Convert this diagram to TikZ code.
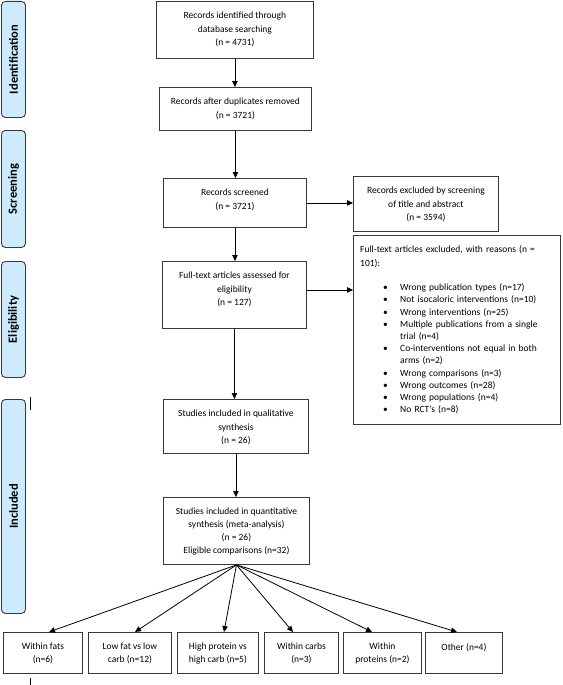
\documentclass[tikz,border=0pt]{standalone}
\usepackage{fontspec}
\setmainfont{Carlito}
\usetikzlibrary{arrows.meta}
\definecolor{lblfill}{RGB}{206,234,253}
\definecolor{edgec}{RGB}{55,55,55}
\newcommand{\bitem}[1]{\par\hangindent=40pt\hangafter=1\noindent\hspace*{23pt}\makebox[17pt][l]{\textbullet}#1}
\begin{document}
\begin{tikzpicture}[x=1pt,y=-1pt,
  box/.style={draw=edgec, line width=0.9pt, anchor=north west, inner sep=0pt},
  txt/.style={anchor=north, inner sep=0pt, align=center, yshift=-11pt, font=\fontsize{9.5}{13.5}\selectfont},
  lbl/.style={draw=edgec, fill=lblfill, rounded corners=4pt, line width=0.9pt, anchor=north west, inner sep=0pt, minimum width=24pt},
  lbltxt/.style={rotate=90, inner sep=0pt, font=\fontsize{12.5}{14}\selectfont\bfseries},
  arr/.style={-{Triangle[length=6pt,width=5.5pt]}, line width=0.8pt},
]
\useasboundingbox (0,0) rectangle (562,685);

% phase labels
\node[lbl, minimum height=116pt] (lid) at (1,1) {};
\node[lbltxt] (lidt) at (lid.center) {Identification};
\node[lbl, minimum height=117pt] (lsc) at (1,130) {};
\node[lbltxt] (lsct) at (lsc.center) {Screening};
\node[lbl, minimum height=116pt] (lel) at (1,261) {};
\node[lbltxt] (lelt) at (lel.center) {Eligibility};
\node[lbl, minimum height=214pt] (lin) at (1,399) {};
\node[lbltxt] (lint) at (lin.center) {Included};

% main boxes
\node[box, minimum width=157pt, minimum height=57pt] (b1) at (156,1) {};
\node[txt] (t1) at (b1.north) {Records identified through\\database searching\\(n = 4731)};
\node[box, minimum width=152pt, minimum height=43pt] (b2) at (159,87) {};
\node[txt] (t2) at (b2.north) {Records after duplicates removed\\(n = 3721)};
\node[box, minimum width=143pt, minimum height=49pt] (b3) at (163,178) {};
\node[txt] (t3) at (b3.north) {Records screened\\(n = 3721)};
\node[box, minimum width=145pt, minimum height=55pt] (ex) at (353,176) {};
\node[txt] (tex) at (ex.north) {Records excluded by screening\\of title and abstract\\(n = 3594)};
\node[box, minimum width=144pt, minimum height=67pt] (b4) at (162,261) {};
\node[txt] (t4) at (b4.north) {Full-text articles assessed for\\eligibility\\(n = 127)};
\node[box, minimum width=207pt, minimum height=189pt] (big) at (353,235) {};
\node[anchor=north west, inner sep=0pt, text width=198pt, align=left, font=\fontsize{9.5}{14}\selectfont] (tbig) at (360,245)
  {Full-text articles excluded, with reasons (n =\\101):\par
   \fontsize{9.5}{12.2}\selectfont\vspace{12.4pt}
   \bitem{Wrong publication types (n=17)}
   \bitem{Not isocaloric interventions (n=10)}
   \bitem{Wrong interventions (n=25)}
   \bitem{Multiple publications from a single\newline trial (n=4)}
   \bitem{Co-interventions not equal in both\newline arms (n=2)}
   \bitem{Wrong comparisons (n=3)}
   \bitem{Wrong outcomes (n=28)}
   \bitem{Wrong populations (n=4)}
   \bitem{No RCT’s (n=8)}\par};
\node[box, minimum width=145pt, minimum height=54pt] (b5) at (163,399) {};
\node[txt] (t5) at (b5.north) {Studies included in qualitative\\synthesis\\(n = 26)};
\node[box, minimum width=146pt, minimum height=67pt] (b6) at (163,497) {};
\node[txt, font=\fontsize{9.5}{13}\selectfont] (t6) at (b6.north) {Studies included in quantitative\\synthesis (meta-analysis)\\(n = 26)\\Eligible comparisons (n=32)};

% bottom boxes
\node[box, minimum width=79pt, minimum height=41pt] (ba) at (3,632) {};
\node[txt, font=\fontsize{9.5}{13}\selectfont] (ta) at (ba.north) {Within fats\\(n=6)};
\node[box, minimum width=83pt, minimum height=41pt] (bb) at (88,632) {};
\node[txt, font=\fontsize{9.5}{13}\selectfont] (tb) at (bb.north) {Low fat vs low\\carb (n=12)};
\node[box, minimum width=81pt, minimum height=41pt] (bc) at (177,632) {};
\node[txt, font=\fontsize{9.5}{13}\selectfont] (tc) at (bc.north) {High protein vs\\high carb (n=5)};
\node[box, minimum width=74pt, minimum height=41pt] (bd) at (264,632) {};
\node[txt, font=\fontsize{9.5}{13}\selectfont] (td) at (bd.north) {Within carbs\\(n=3)};
\node[box, minimum width=78pt, minimum height=41pt] (be) at (343,632) {};
\node[txt, font=\fontsize{9.5}{13}\selectfont] (te) at (be.north) {Within\\proteins (n=2)};
\node[box, minimum width=77pt, minimum height=41pt] (bf) at (425,632) {};
\node[txt, font=\fontsize{9.5}{13}\selectfont] (tf) at (bf.north) {Other (n=4)};

% connectors
\coordinate (b4r) at ([yshift=5pt]b4.east);
\draw[arr] (b1.south) -- (b1.south |- b2.north);
\draw[arr] (b2.south) -- (b2.south |- b3.north);
\draw[arr] (b3.east) -- (ex.west |- b3.east);
\draw[arr] (b3.south) -- (b3.south |- b4.north);
\draw[arr] (b4r) -- (big.west |- b4r);
\draw[arr] (b4.south) -- (b4.south |- b5.north);
\draw[arr] (b5.south) -- (b5.south |- b6.north);
\draw[arr] (b6.south) -- ([xshift=46pt]ba.north west);
\draw[arr] (b6.south) -- ([xshift=47pt]bb.north west);
\draw[arr] (b6.south) -- ([xshift=47pt]bc.north west);
\draw[arr] (b6.south) -- ([xshift=29pt]bd.north west);
\draw[arr] (b6.south) -- ([xshift=29pt]be.north west);
\draw[arr] (b6.south) -- ([xshift=32pt]bf.north west);

% stray marks
\coordinate (m1a) at (30,397); \coordinate (m1b) at (30,410);
\coordinate (m2a) at (30,678); \coordinate (m2b) at (30,685);
\draw[line width=0.8pt] (m1a) -- (m1b);
\draw[line width=0.8pt] (m2a) -- (m2b);
\end{tikzpicture}
\end{document}
